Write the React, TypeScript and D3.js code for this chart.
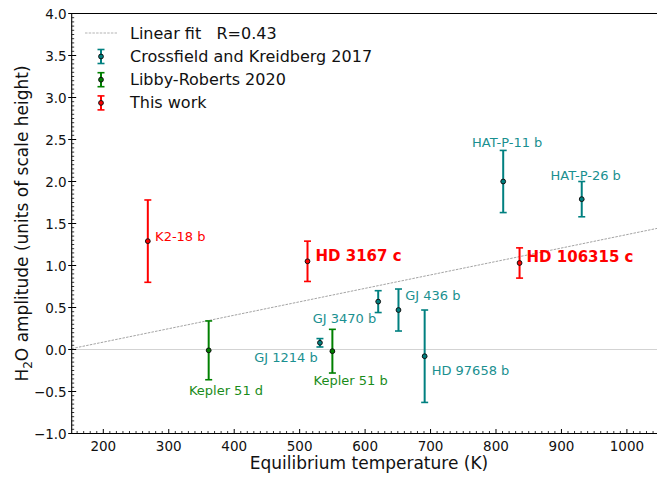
import React from "react";
import * as d3 from "d3";

const W = 657;
const H = 479;

// Data
const planets = ["K2-18 b", "HD 3167 c", "HD 106315 c", "Kepler 51 d", "Kepler 51 b", "GJ 1214 b", "GJ 3470 b", "GJ 436 b", "HD 97658 b", "HAT-P-11 b", "HAT-P-26 b"];
const teq = [268, 512, 836, 361, 550, 531, 620, 651, 691, 811, 931];
const amp = [1.29, 1.05, 1.03, -0.01, -0.02, 0.08, 0.57, 0.47, -0.08, 2.0, 1.79];
const err = [0.49, 0.24, 0.18, 0.35, 0.26, 0.05, 0.13, 0.25, 0.55, 0.37, 0.21];
const source = ["This work", "This work", "This work", "Libby-Roberts 2020", "Libby-Roberts 2020", "Crossfield and Kreidberg 2017", "Crossfield and Kreidberg 2017", "Crossfield and Kreidberg 2017", "Crossfield and Kreidberg 2017", "Crossfield and Kreidberg 2017", "Crossfield and Kreidberg 2017"];
const legendSources = ["Crossfield and Kreidberg 2017", "Libby-Roberts 2020", "This work"];
const fitSlope = 0.0016;
const fitIntercept = -0.232;
const fitR = 0.43;
const xTicks = [200, 300, 400, 500, 600, 700, 800, 900, 1000];
const yTicks = [-1.0, -0.5, 0.0, 0.5, 1.0, 1.5, 2.0, 2.5, 3.0, 3.5, 4.0];

// label placement (pixel offsets from point, anchor, bold)
const labelOffsets: [number, number, string, boolean][] = [
  [7.3, -4.7, "start", false],
  [8, -5, "start", true],
  [7, -6, "start", true],
  [17.3, 40, "middle", false],
  [18.3, 29, "middle", false],
  [-2.3, 15, "end", false],
  [-2, 17, "end", false],
  [6.7, -15, "start", false],
  [7, 14, "start", false],
  [4, -38.7, "middle", false],
  [4, -24, "middle", false],
];

const colors: Record<string, string> = {
  "Crossfield and Kreidberg 2017": "#008080",
  "Libby-Roberts 2020": "#008000",
  "This work": "#ff0000",
};
const labelColors: Record<string, string> = {
  "Crossfield and Kreidberg 2017": "#1a9090",
  "Libby-Roberts 2020": "#1a8c1a",
  "This work": "#ff0000",
};

const FONT = "DejaVu Sans, sans-serif";

export default function App() {
  const left = 71.7, right = 657, top = 13.5, bottom = 433.5;
  const x = d3.scaleLinear().domain([151.7, 1046]).range([left, right]);
  const y = d3.scaleLinear().domain([-1, 4]).range([bottom, top]);

  const xMinor = d3.range(160, 1050, 10).filter((v) => v % 100 !== 0);
  const yMinor = d3.range(-1, 4.0001, 0.05).filter((v) => Math.abs(v * 2 - Math.round(v * 2)) > 1e-6);

  const fitLine = d3.line<number>()
    .x((t) => x(t))
    .y((t) => y(fitSlope * t + fitIntercept));
  const fitTs = [151.7, 1046];

  const cap = 3.5;

  return (
    <svg width={W} height={H} style={{ position: "absolute", left: 0, top: 0 }} fontFamily={FONT}>
      <rect x={0} y={0} width={W} height={H} fill="white" />
      <defs>
        <clipPath id="plotclip">
          <rect x={left} y={top} width={right - left} height={bottom - top} />
        </clipPath>
      </defs>
      {/* zero line */}
      <line x1={left} x2={right} y1={y(0)} y2={y(0)} stroke="#d3d3d3" strokeWidth={1} />
      {/* fit line */}
      <path d={fitLine(fitTs) || ""} stroke="#999" strokeWidth={0.9} strokeDasharray="2.5,1.2" fill="none" clipPath="url(#plotclip)" />
      {/* error bars */}
      {planets.map((p, i) => {
        const c = colors[source[i]];
        const cx = x(teq[i]);
        const y1 = y(amp[i] + err[i]);
        const y2 = y(amp[i] - err[i]);
        return (
          <g key={p}>
            <line x1={cx} x2={cx} y1={y1} y2={y2} stroke={c} strokeWidth={2} />
            <line x1={cx - cap} x2={cx + cap} y1={y1} y2={y1} stroke={c} strokeWidth={1.6} />
            <line x1={cx - cap} x2={cx + cap} y1={y2} y2={y2} stroke={c} strokeWidth={1.6} />
            <circle cx={cx} cy={y(amp[i])} r={2.4} fill={c} stroke="#111" strokeWidth={1} />
          </g>
        );
      })}
      {/* labels */}
      {planets.map((p, i) => {
        const [dx, dy, anchor, bold] = labelOffsets[i];
        return (
          <text key={"l" + p} x={x(teq[i]) + dx} y={y(amp[i]) + dy} textAnchor={anchor as any}
            dominantBaseline="central" fontSize={bold ? 15 : 13} fontWeight={bold ? "bold" : "normal"}
            fill={labelColors[source[i]]}>{p}</text>
        );
      })}
      {/* axes spines */}
      <line x1={left} x2={right} y1={top} y2={top} stroke="black" strokeWidth={1.1} />
      <line x1={left} x2={right} y1={bottom} y2={bottom} stroke="black" strokeWidth={1.1} />
      <line x1={left} x2={left} y1={top} y2={bottom} stroke="black" strokeWidth={1.1} />
      {/* x ticks */}
      {xTicks.map((t) => (
        <g key={"xt" + t}>
          <line x1={x(t)} x2={x(t)} y1={bottom} y2={bottom - 4.5} stroke="black" strokeWidth={1} />
          <text x={x(t)} y={bottom + 17} textAnchor="middle" fontSize={13.5} fill="#111">{t}</text>
        </g>
      ))}
      {xMinor.map((t) => (
        <line key={"xm" + t} x1={x(t)} x2={x(t)} y1={bottom} y2={bottom - 2.5} stroke="black" strokeWidth={0.8} />
      ))}
      {/* y ticks */}
      {yTicks.map((t) => (
        <g key={"yt" + t}>
          <line x1={left - 3.5} x2={left + 4.5} y1={y(t)} y2={y(t)} stroke="black" strokeWidth={1} />
          <text x={left - 5} y={y(t)} textAnchor="end" dominantBaseline="central" fontSize={13.5} fill="#111">
            {t < 0 ? "\u2212" + Math.abs(t).toFixed(1) : t.toFixed(1)}
          </text>
        </g>
      ))}
      {yMinor.map((t, i) => (
        <line key={"ym" + i} x1={left} x2={left + 2.5} y1={y(t)} y2={y(t)} stroke="black" strokeWidth={0.8} />
      ))}
      {/* axis labels */}
      <text x={369} y={469} textAnchor="middle" fontSize={17} fill="#111">Equilibrium temperature (K)</text>
      <text transform={`translate(28, ${(top + bottom) / 2}) rotate(-90)`} textAnchor="middle" fontSize={17} fill="#111">
        H<tspan fontSize={12} dy={4}>2</tspan><tspan dy={-4}>O amplitude (units of scale height)</tspan>
      </text>
      {/* legend */}
      <g>
        <line x1={85} x2={117} y1={33} y2={33} stroke="#aaa" strokeWidth={0.9} strokeDasharray="2.5,1.2" />
        <text x={130} y={33} dominantBaseline="central" fontSize={16} fill="#111" style={{ whiteSpace: "pre" }}>{"Linear fit   R=" + fitR.toFixed(2)}</text>
        {legendSources.map((s, i) => {
          const ly = 56.5 + i * 23.2;
          const c = colors[s];
          return (
            <g key={"lg" + s}>
              <line x1={101} x2={101} y1={ly - 7} y2={ly + 7} stroke={c} strokeWidth={2} />
              <line x1={101 - cap} x2={101 + cap} y1={ly - 7} y2={ly - 7} stroke={c} strokeWidth={1.6} />
              <line x1={101 - cap} x2={101 + cap} y1={ly + 7} y2={ly + 7} stroke={c} strokeWidth={1.6} />
              <circle cx={101} cy={ly} r={2.4} fill={c} stroke="#111" strokeWidth={1} />
              <text x={130} y={ly} dominantBaseline="central" fontSize={16} fill="#111">{s}</text>
            </g>
          );
        })}
      </g>
    </svg>
  );
}
